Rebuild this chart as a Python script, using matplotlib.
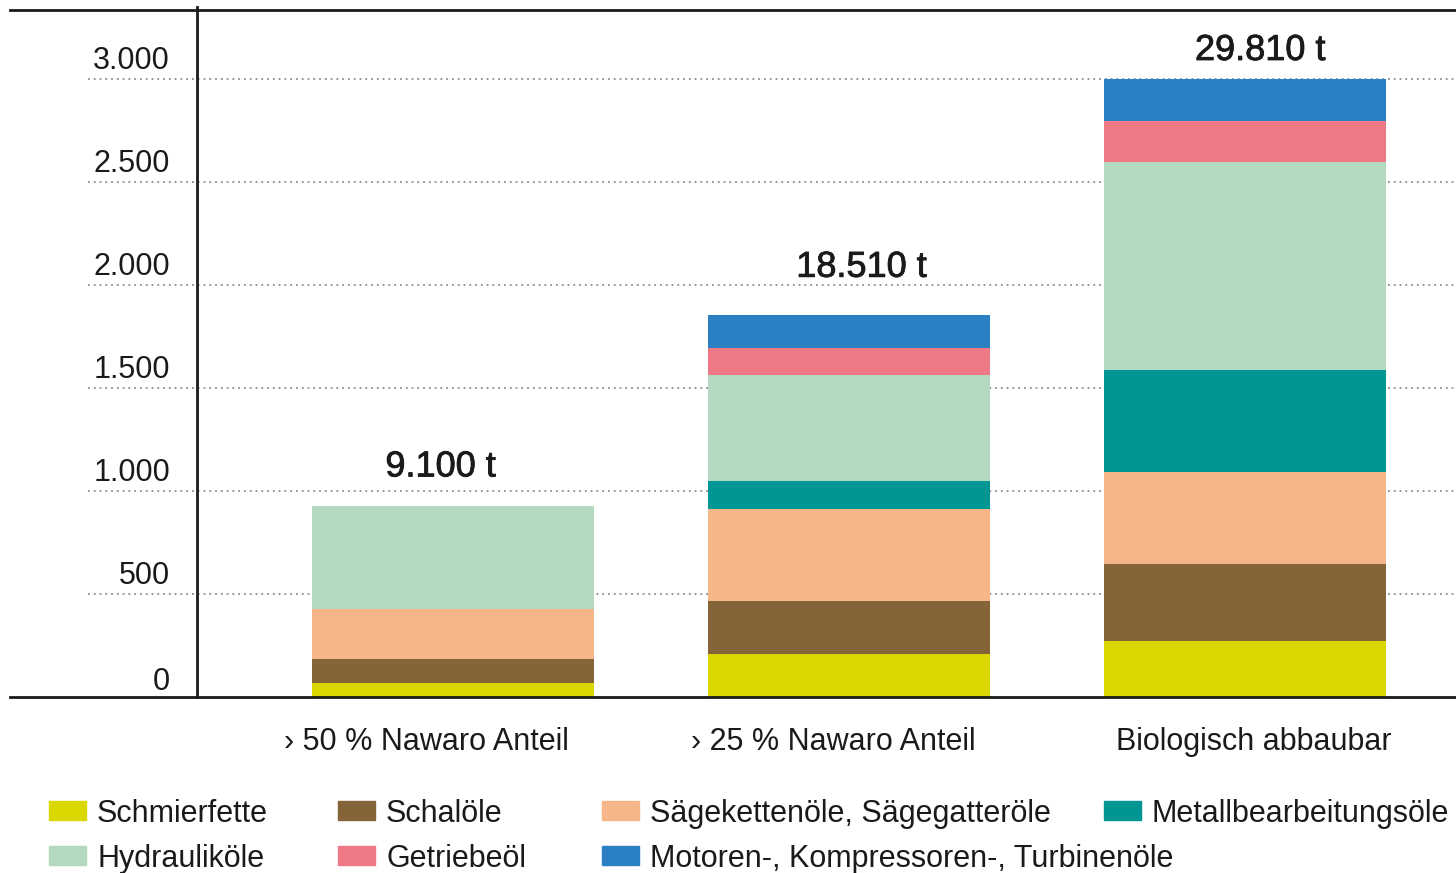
import matplotlib
matplotlib.use("Agg")
import matplotlib.pyplot as plt
from matplotlib.patches import Rectangle
import matplotlib.patheffects as pe

plt.rcParams['font.family'] = ['Liberation Sans', 'DejaVu Sans']

# Categories and totals
categories = ["› 50 % Nawaro Anteil", "› 25 % Nawaro Anteil", "Biologisch abbaubar"]
totals = ["9.100 t", "18.510 t", "29.810 t"]

# Series (values in 10 t)
series = [
    "Schmierfette",
    "Schalöle",
    "Sägekettenöle, Sägegatteröle",
    "Metallbearbeitungsöle",
    "Hydrauliköle",
    "Getriebeöl",
    "Motoren-, Kompressoren-, Turbinenöle",
]
schmierfette = [70, 210, 270]
schaloele = [115, 255, 375]
saegekettenoele = [240, 450, 445]
metallbearbeitungsoele = [0, 135, 495]
hydraulikoele = [500, 515, 1010]
getriebeoel = [0, 130, 200]
motorenoele = [0, 160, 205]

colors = ["#d9d600", "#86643a", "#f6b687", "#009694", "#b3dac1", "#ee7885", "#2b7fc3"]

yticks = [0, 500, 1000, 1500, 2000, 2500, 3000]
ytick_labels = ["0", "500", "1.000", "1.500", "2.000", "2.500", "3.000"]

values = [schmierfette, schaloele, saegekettenoele, metallbearbeitungsoele,
          hydraulikoele, getriebeoel, motorenoele]

W, H = 1456, 873
fig = plt.figure(figsize=(W / 100, H / 100), dpi=100)
ax = fig.add_axes([10 / W, 1 - 697 / H, 1446 / W, 687 / H])
ax.set_xlim(-1.1187, 2.5328)
ax.set_ylim(0, 3335)

x = list(range(len(categories)))

# Gridlines (dotted, behind the bars)
for y in yticks[1:]:
    ax.plot([0.054, 1], [y, y], transform=ax.get_yaxis_transform(),
            ls=(0, (1, 2.2)), lw=1.3, color="#8c8c8c", zorder=1, clip_on=False)

# Stacked bars
bottom = [0, 0, 0]
for name, vals, col in zip(series, values, colors):
    ax.bar(x, vals, width=0.71, bottom=bottom, color=col, zorder=2, linewidth=0)
    bottom = [b + v for b, v in zip(bottom, vals)]

# Axis lines
for s in ["left", "right"]:
    ax.spines[s].set_visible(False)
for s in ["top", "bottom"]:
    ax.spines[s].set_linewidth(2)
    ax.spines[s].set_color("#1a1a1a")
ax.axvline(-0.6465, ymax=1.004, color="#1a1a1a", lw=2, zorder=3, clip_on=False)
ax.set_xticks([])
ax.set_yticks([])

# Y tick labels above gridlines
for y, lab in zip(yticks, ytick_labels):
    ax.annotate(lab, xy=(0.1107, y), xycoords=ax.get_yaxis_transform(),
                xytext=(0, 7 if y else 5), textcoords="offset points",
                ha="right", va="baseline", fontsize=22, color="#1a1a1a")

# Category labels
cat_shift = [-19, -11, 6]
for i, cat, dx in zip(x, categories, cat_shift):
    ax.annotate(cat, xy=(i, 0), xytext=(dx, -38), textcoords="offset points",
                ha="center", va="baseline", fontsize=22, color="#1a1a1a",
                annotation_clip=False)

# Totals above bars
gaps = [21.6, 27.4, 13.7]
tot_shift = [-9, 9, 11]
for i, tot, top, g, dx in zip(x, totals, bottom, gaps, tot_shift):
    ax.annotate(tot, xy=(i, top), xytext=(dx, g), textcoords="offset points",
                ha="center", va="baseline", fontsize=26, color="#1a1a1a",
                path_effects=[pe.withStroke(linewidth=0.6, foreground="#1a1a1a")])

# Legend, drawn by hand
legend_pos = [(49, 801), (338, 801), (602, 801), (1104, 801),
              (49, 846), (338, 846), (602, 846)]
for name, col, (px, py) in zip(series, colors, legend_pos):
    fig.patches.append(Rectangle((px / W, 1 - (py + 19) / H), 37 / W, 19 / H,
                                 transform=fig.transFigure, color=col))
    fig.text((px + 48) / W, 1 - (py + 21) / H, name, ha="left", va="baseline",
             fontsize=22, color="#1a1a1a")

fig.savefig("out.png", dpi=100)
